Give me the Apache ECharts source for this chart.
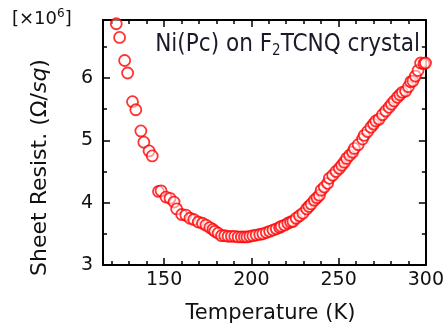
<!DOCTYPE html>
<html>
<head>
<meta charset="utf-8">
<script src="https://cdn.jsdelivr.net/npm/echarts@6/dist/echarts.min.js"></script>
<style>
  html, body { margin: 0; padding: 0; background: #fff; }
  #chart { width: 447px; height: 329px; }
</style>
</head>
<body>
<div id="chart"></div>
<script>
// temperature (K) and sheet resistance (x10^6 Ω/sq)
const temps = [122.6, 124.5, 127.4, 129.1, 131.9, 133.8, 136.7, 138.4, 141.4, 143.2,
  146.8, 148.3, 151.1, 153.4, 155.7, 157.2, 160.1, 162.5, 164.8, 167.0, 169.6, 172.0,
  174.0, 176.2, 178.0, 179.1, 181.0, 182.9, 184.8, 186.7, 188.6, 190.5, 192.4, 194.3,
  196.0, 197.5, 199.2, 200.9, 202.8, 204.8, 206.6, 208.6, 210.5, 212.4, 214.3, 216.2,
  217.1, 219.0, 220.9, 222.5, 223.8, 225.7, 227.6, 229.5, 231.7, 233.0, 234.3, 236.1,
  237.6, 239.0, 240.0, 241.8, 243.7, 244.7, 246.6, 248.5, 250.4, 251.8, 253.3, 254.6,
  256.3, 258.0, 259.0, 261.2, 263.7, 264.7, 266.6, 268.5, 270.0, 271.3, 273.2, 275.1,
  277.0, 278.9, 280.3, 281.8, 283.7, 285.1, 286.5, 288.4, 290.0, 291.3, 292.6, 294.0,
  295.5, 297.0, 298.9, 299.8]
const resist = [6.87, 6.65, 6.28, 6.08, 5.62, 5.49, 5.15, 4.97, 4.83, 4.75,
  4.18, 4.19, 4.09, 4.07, 4.01, 3.90, 3.81, 3.80, 3.75, 3.73, 3.69, 3.67,
  3.64, 3.60, 3.57, 3.54, 3.51, 3.47, 3.47, 3.46, 3.46, 3.46, 3.45, 3.45,
  3.45, 3.45, 3.46, 3.47, 3.48, 3.49, 3.50, 3.52, 3.54, 3.56, 3.58, 3.60,
  3.62, 3.64, 3.67, 3.69, 3.70, 3.75, 3.79, 3.83, 3.90, 3.94, 3.98, 4.04,
  4.08, 4.12, 4.20, 4.25, 4.31, 4.39, 4.44, 4.50, 4.55, 4.60, 4.65, 4.71,
  4.76, 4.81, 4.87, 4.93, 5.02, 5.08, 5.14, 5.21, 5.26, 5.31, 5.34, 5.41,
  5.47, 5.53, 5.58, 5.63, 5.69, 5.73, 5.77, 5.79, 5.86, 5.94, 5.95, 6.03,
  6.12, 6.24, 6.23, 6.24]

const xMajor = [150, 200, 250, 300]
const xMinor = [120, 130, 140, 160, 170, 180, 190, 210, 220, 230, 240, 260, 270, 280, 290]
const yMajor = [3, 4, 5, 6]
const yMinor = [3.5, 4.5, 5.5, 6.5]

const X_MIN = 115
const X_MAX = 300
const Y_MIN = 3
const Y_MAX = 6.93

const FONT = 'DejaVu Sans'
const LINE = { lineStyle: { color: '#000', width: 2 } }

// one axis per tick set, so major and minor ticks can have different lengths
const makeX = (position, ticks, len, withLabels, showLine) => ({
  type: 'value',
  position,
  min: X_MIN,
  max: X_MAX,
  axisLine: { show: showLine, onZero: false, ...LINE },
  axisTick: { show: true, inside: true, length: len, customValues: ticks, lineStyle: { color: '#000', width: 1.5 } },
  axisLabel: withLabels
    ? { show: true, customValues: ticks, color: '#111', fontFamily: FONT, fontSize: 19, margin: 6 }
    : { show: false },
  splitLine: { show: false },
})

const makeY = (position, ticks, len, withLabels, showLine) => ({
  type: 'value',
  position,
  min: Y_MIN,
  max: Y_MAX,
  axisLine: { show: showLine, onZero: false, ...LINE },
  axisTick: { show: true, inside: true, length: len, customValues: ticks, lineStyle: { color: '#000', width: 1.5 } },
  axisLabel: withLabels
    ? { show: true, customValues: ticks, color: '#111', fontFamily: FONT, fontSize: 19, margin: 10 }
    : { show: false },
  splitLine: { show: false },
})

const xAxes = [
  {
    ...makeX('bottom', xMajor, 7, true, true),
    name: 'Temperature (K)',
    nameLocation: 'middle',
    nameGap: 38,
    nameTextStyle: { color: '#111', fontFamily: FONT, fontSize: 21, padding: [0, 0, 0, 12] },
  },
  makeX('bottom', xMinor, 4, false, false),
  makeX('top', xMajor, 7, false, true),
  makeX('top', xMinor, 4, false, false),
]

const yAxes = [
  {
    ...makeY('left', yMajor, 7, true, true),
    name: 'Sheet Resist. (Ω/{i|sq})',
    nameLocation: 'middle',
    nameGap: 52,
    nameRotate: 90,
    nameTextStyle: {
      color: '#111',
      fontFamily: FONT,
      fontSize: 22,
      padding: [0, 50, 0, 0],
      rich: { i: { fontStyle: 'italic', fontFamily: FONT, fontSize: 22, color: '#111' } },
    },
  },
  makeY('left', yMinor, 4, false, false),
  makeY('right', yMajor, 7, false, true),
  makeY('right', yMinor, 4, false, false),
]

const chart = echarts.init(document.getElementById('chart'), null, { renderer: 'canvas' })

chart.setOption({
  animation: false,
  backgroundColor: '#fff',
  grid: { left: 103, right: 19, top: 20, bottom: 61, containLabel: false },
  xAxis: xAxes,
  yAxis: yAxes,
  graphic: [
    {
      type: 'text',
      left: 12,
      top: 8,
      style: {
        text: '[×10{s|6}]',
        fill: '#111',
        font: '18px "DejaVu Sans"',
        rich: { s: { fontSize: 12, fontFamily: FONT, fill: '#111', padding: [0, 0, 10, 0] } },
      },
    },
    {
      type: 'text',
      right: 27,
      top: 33,
      style: {
        text: 'Ni(Pc) on F{sub|2}TCNQ crystal',
        fill: '#1a1a2a',
        font: '24px "DejaVu Sans Condensed"',
        rich: { sub: { fontSize: 15, fontFamily: 'DejaVu Sans Condensed', fill: '#1a1a2a', padding: [13, 0, 0, 0] } },
      },
    },
  ],
  series: [
    {
      type: 'scatter',
      data: temps.map((t, i) => [t, resist[i]]),
      symbol: 'circle',
      symbolSize: 11,
      clip: false,
      itemStyle: { color: 'rgba(255,255,255,0.6)', borderColor: '#ff0000', borderWidth: 1.8 },
    },
  ],
})
</script>
</body>
</html>
